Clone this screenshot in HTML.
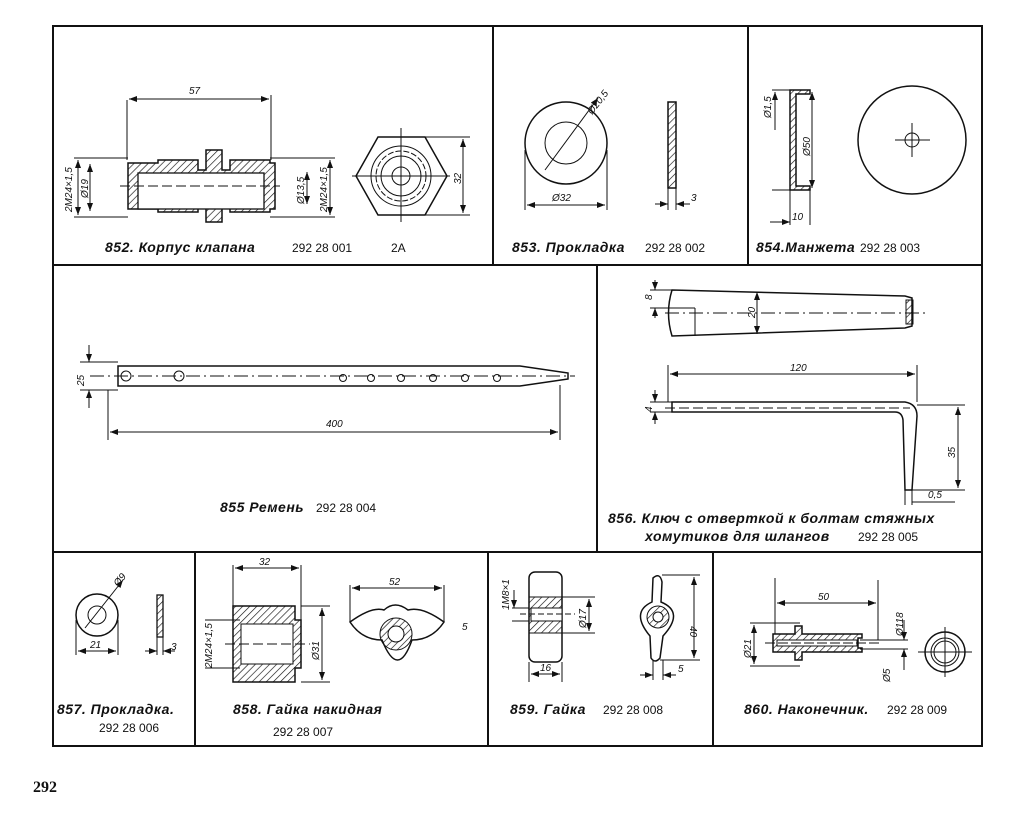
<!DOCTYPE html>
<html><head><meta charset="utf-8"><style>
html,body{margin:0;padding:0;background:#fff}
svg{display:block}
text{font-family:"Liberation Sans","DejaVu Sans",sans-serif;fill:#111}
.t{font-size:14px;font-style:italic;font-weight:bold;letter-spacing:0.5px}
.n{font-size:12px}
.d{font-size:10px;font-style:italic}
</style></head><body>
<svg width="1024" height="814" viewBox="0 0 1024 814" xmlns="http://www.w3.org/2000/svg">
<defs>
<pattern id="h" width="5" height="5" patternUnits="userSpaceOnUse" patternTransform="rotate(45)"><line x1="0" y1="0" x2="0" y2="5" stroke="#111" stroke-width="1.3"/></pattern>
<marker id="a" markerWidth="8" markerHeight="6" refX="8" refY="3" orient="auto-start-reverse"><path d="M0,0L8,3L0,6z" fill="#111"/></marker>
</defs>
<g fill="none" stroke="#111" stroke-width="2">
<rect x="53" y="26" width="929" height="720"/>
<line x1="53" y1="265" x2="982" y2="265"/>
<line x1="53" y1="552" x2="982" y2="552"/>
<line x1="493" y1="26" x2="493" y2="265"/>
<line x1="748" y1="26" x2="748" y2="265"/>
<line x1="597" y1="265" x2="597" y2="552"/>
<line x1="195" y1="552" x2="195" y2="746"/>
<line x1="488" y1="552" x2="488" y2="746"/>
<line x1="713" y1="552" x2="713" y2="746"/>
</g>
<g stroke="#111" fill="none" stroke-width="1">
<!-- 852 -->
<path d="M128,163 h30 v-3 h40 v10 h8 v-20 h16 v20 h8 v-10 h40 v3 h5 v46 h-5 v3 h-40 v-10 h-8 v20 h-16 v-20 h-8 v10 h-40 v-3 h-30 z" fill="url(#h)" stroke-width="1.5"/>
<rect x="138" y="173" width="126" height="36" fill="#fff" stroke-width="1.3"/>
<line x1="120" y1="186" x2="280" y2="186" stroke-dasharray="10,4"/>
<line x1="127" y1="100" x2="127" y2="160"/><line x1="271" y1="95" x2="271" y2="160"/>
<line x1="129" y1="99" x2="269" y2="99" marker-start="url(#a)" marker-end="url(#a)"/>
<line x1="74" y1="158" x2="128" y2="158"/><line x1="74" y1="217" x2="128" y2="217"/>
<line x1="78" y1="160" x2="78" y2="215" marker-start="url(#a)" marker-end="url(#a)"/>
<line x1="90" y1="164" x2="90" y2="211" marker-start="url(#a)" marker-end="url(#a)"/>
<line x1="270" y1="158" x2="335" y2="158"/><line x1="270" y1="217" x2="335" y2="217"/>
<line x1="307" y1="172" x2="307" y2="204" marker-start="url(#a)" marker-end="url(#a)"/>
<line x1="330" y1="160" x2="330" y2="215" marker-start="url(#a)" marker-end="url(#a)"/>
<polygon points="378,137 425,137 447,176 425,215 378,215 356,176" stroke-width="1.5"/>
<circle cx="401" cy="176" r="30"/><circle cx="401" cy="176" r="25" stroke-dasharray="6,2"/><circle cx="401" cy="176" r="20"/><circle cx="401" cy="176" r="9"/>
<line x1="352" y1="176" x2="450" y2="176"/><line x1="401" y1="128" x2="401" y2="222"/>
<line x1="425" y1="137" x2="470" y2="137"/><line x1="425" y1="215" x2="470" y2="215"/>
<line x1="463" y1="139" x2="463" y2="213" marker-start="url(#a)" marker-end="url(#a)"/>
<!-- 853 -->
<circle cx="566" cy="143" r="41" stroke-width="1.5"/><circle cx="566" cy="143" r="21"/>
<line x1="545" y1="170" x2="598" y2="98" marker-end="url(#a)"/>
<line x1="525" y1="150" x2="525" y2="210"/><line x1="607" y1="150" x2="607" y2="210"/>
<line x1="527" y1="205" x2="605" y2="205" marker-start="url(#a)" marker-end="url(#a)"/>
<rect x="668" y="102" width="8" height="86" fill="url(#h)" stroke-width="1.5"/>
<line x1="668" y1="188" x2="668" y2="210"/><line x1="676" y1="188" x2="676" y2="210"/>
<line x1="655" y1="204" x2="668" y2="204" marker-end="url(#a)"/><line x1="690" y1="204" x2="676" y2="204" marker-end="url(#a)"/>
<!-- 854 -->
<path d="M790,90 h20 v4 h-14 v92 h14 v4 h-20 z" fill="url(#h)" stroke-width="1.5"/>
<line x1="772" y1="90" x2="790" y2="90"/><line x1="772" y1="190" x2="790" y2="190"/>
<line x1="775" y1="92" x2="775" y2="130" marker-start="url(#a)"/>
<line x1="812" y1="92" x2="812" y2="188" marker-start="url(#a)" marker-end="url(#a)"/>
<line x1="790" y1="190" x2="790" y2="225"/><line x1="810" y1="190" x2="810" y2="225"/>
<line x1="770" y1="222" x2="790" y2="222" marker-end="url(#a)"/>
<circle cx="912" cy="140" r="54" stroke-width="1.5"/><circle cx="912" cy="140" r="7"/>
<line x1="895" y1="140" x2="930" y2="140"/><line x1="912" y1="123" x2="912" y2="157"/>
<!-- 855 -->
<path d="M118,366 L520,366 L568,373 L568,379 L520,386 L118,386 Z" stroke-width="1.5"/>
<line x1="90" y1="376" x2="575" y2="376" stroke-dasharray="14,4,2,4"/>
<circle cx="126" cy="376" r="5"/><circle cx="179" cy="376" r="5"/>
<circle cx="343" cy="378" r="3.5"/><circle cx="371" cy="378" r="3.5"/><circle cx="401" cy="378" r="3.5"/><circle cx="433" cy="378" r="3.5"/><circle cx="465" cy="378" r="3.5"/><circle cx="497" cy="378" r="3.5"/>
<line x1="80" y1="362" x2="118" y2="362"/><line x1="80" y1="390" x2="118" y2="390"/>
<line x1="89" y1="345" x2="89" y2="362" marker-end="url(#a)"/><line x1="89" y1="408" x2="89" y2="390" marker-end="url(#a)"/>
<line x1="108" y1="390" x2="108" y2="440"/><line x1="560" y1="385" x2="560" y2="440"/>
<line x1="110" y1="432" x2="558" y2="432" marker-start="url(#a)" marker-end="url(#a)"/>
<!-- 856 -->
<path d="M672,290 L905,296 L912,298 L912,326 L905,328 L672,336 Q665,313 672,290 Z" stroke-width="1.5"/>
<line x1="672" y1="308" x2="695" y2="308"/><line x1="695" y1="308" x2="695" y2="336"/>
<line x1="665" y1="313" x2="925" y2="313" stroke-dasharray="14,4,2,4"/>
<line x1="650" y1="290" x2="672" y2="290"/><line x1="650" y1="308" x2="672" y2="308"/>
<line x1="655" y1="280" x2="655" y2="290" marker-end="url(#a)"/><line x1="655" y1="318" x2="655" y2="308" marker-end="url(#a)"/>
<line x1="757" y1="292" x2="757" y2="334" marker-start="url(#a)" marker-end="url(#a)"/>
<rect x="906" y="300" width="7" height="24" fill="url(#h)"/>
<path d="M672,402 L905,402 Q917,404 917,416 L912,490 L905,490 L903,420 Q902,412 895,412 L672,412 Z" stroke-width="1.5"/>
<line x1="665" y1="408" x2="910" y2="408" stroke-dasharray="10,4"/>
<line x1="668" y1="365" x2="668" y2="402"/><line x1="917" y1="365" x2="917" y2="402"/>
<line x1="670" y1="374" x2="915" y2="374" marker-start="url(#a)" marker-end="url(#a)"/>
<line x1="650" y1="402" x2="672" y2="402"/><line x1="650" y1="412" x2="672" y2="412"/>
<line x1="655" y1="390" x2="655" y2="402" marker-end="url(#a)"/><line x1="655" y1="424" x2="655" y2="412" marker-end="url(#a)"/>
<line x1="917" y1="405" x2="965" y2="405"/><line x1="912" y1="490" x2="965" y2="490"/>
<line x1="958" y1="407" x2="958" y2="488" marker-start="url(#a)" marker-end="url(#a)"/>
<line x1="905" y1="490" x2="905" y2="505"/><line x1="912" y1="490" x2="912" y2="505"/>
<line x1="912" y1="502" x2="955" y2="502"/>
<!-- 857 -->
<circle cx="97" cy="615" r="21" stroke-width="1.5"/><circle cx="97" cy="615" r="9"/>
<line x1="85" y1="628" x2="123" y2="580" marker-end="url(#a)"/>
<line x1="76" y1="620" x2="76" y2="655"/><line x1="118" y1="620" x2="118" y2="655"/>
<line x1="78" y1="651" x2="116" y2="651" marker-start="url(#a)" marker-end="url(#a)"/>
<rect x="157" y="595" width="6" height="42" fill="url(#h)" stroke-width="1.3"/>
<line x1="157" y1="637" x2="157" y2="655"/><line x1="163" y1="637" x2="163" y2="655"/>
<line x1="145" y1="651" x2="157" y2="651" marker-end="url(#a)"/><line x1="175" y1="651" x2="163" y2="651" marker-end="url(#a)"/>
<!-- 858 -->
<path d="M233,606 h62 v14 h6 v48 h-6 v14 h-62 z" fill="url(#h)" stroke-width="1.5"/>
<rect x="241" y="624" width="52" height="40" fill="#fff"/>
<line x1="225" y1="644" x2="310" y2="644" stroke-dasharray="10,4"/>
<line x1="233" y1="565" x2="233" y2="606"/><line x1="301" y1="565" x2="301" y2="620"/>
<line x1="235" y1="568" x2="299" y2="568" marker-start="url(#a)" marker-end="url(#a)"/>
<line x1="205" y1="620" x2="240" y2="620"/><line x1="205" y1="668" x2="240" y2="668"/>
<line x1="301" y1="606" x2="330" y2="606"/><line x1="301" y1="682" x2="330" y2="682"/>
<line x1="322" y1="608" x2="322" y2="680" marker-start="url(#a)" marker-end="url(#a)"/>
<path d="M350,622 Q372,606 384,610 Q395,600 408,610 Q422,606 444,622 Q432,640 412,640 Q398,680 382,640 Q362,640 350,622 Z" stroke-width="1.5"/>
<circle cx="396" cy="634" r="16" fill="url(#h)"/><circle cx="396" cy="634" r="8" fill="#fff"/>
<line x1="350" y1="585" x2="350" y2="622"/><line x1="444" y1="585" x2="444" y2="622"/>
<line x1="352" y1="588" x2="442" y2="588" marker-start="url(#a)" marker-end="url(#a)"/>
<!-- 859 -->
<rect x="529" y="572" width="33" height="90" rx="6" stroke-width="1.5"/>
<rect x="529" y="597" width="33" height="36" fill="url(#h)"/>
<rect x="531" y="608" width="31" height="13" fill="#fff"/>
<line x1="520" y1="614" x2="575" y2="614" stroke-dasharray="6,3"/>
<line x1="562" y1="597" x2="595" y2="597"/><line x1="562" y1="633" x2="595" y2="633"/>
<line x1="589" y1="599" x2="589" y2="631" marker-start="url(#a)" marker-end="url(#a)"/>
<line x1="512" y1="608" x2="529" y2="608"/><line x1="512" y1="621" x2="529" y2="621"/>
<line x1="514" y1="590" x2="514" y2="608" marker-end="url(#a)"/>
<line x1="529" y1="662" x2="529" y2="682"/><line x1="562" y1="662" x2="562" y2="682"/>
<line x1="531" y1="674" x2="560" y2="674" marker-start="url(#a)" marker-end="url(#a)"/>
<path d="M653,578 Q660,572 662,582 L661,602 Q685,612 663,636 L660,658 Q655,664 651,658 L650,636 Q630,612 652,602 Z" stroke-width="1.5"/>
<circle cx="658" cy="617" r="11" fill="url(#h)"/><circle cx="658" cy="617" r="5" fill="#fff"/>
<line x1="662" y1="575" x2="700" y2="575"/><line x1="660" y1="660" x2="700" y2="660"/>
<line x1="694" y1="577" x2="694" y2="658" marker-start="url(#a)" marker-end="url(#a)"/>
<line x1="653" y1="660" x2="653" y2="680"/><line x1="663" y1="660" x2="663" y2="680"/>
<line x1="640" y1="675" x2="653" y2="675" marker-end="url(#a)"/><line x1="676" y1="675" x2="663" y2="675" marker-end="url(#a)"/>
<!-- 860 -->
<path d="M773,634 h22 v-8 h7 v8 h60 v4 h-4 v10 h4 v4 h-60 v8 h-7 v-8 h-22 z" fill="url(#h)" stroke-width="1.5"/>
<rect x="777" y="640" width="80" height="6" fill="#fff"/>
<line x1="765" y1="643" x2="880" y2="643" stroke-dasharray="10,3"/>
<line x1="775" y1="578" x2="775" y2="634"/><line x1="878" y1="580" x2="878" y2="640"/>
<line x1="777" y1="603" x2="876" y2="603" marker-start="url(#a)" marker-end="url(#a)"/>
<line x1="750" y1="623" x2="800" y2="623"/><line x1="750" y1="666" x2="800" y2="666"/>
<line x1="754" y1="625" x2="754" y2="664" marker-start="url(#a)" marker-end="url(#a)"/>
<line x1="860" y1="640" x2="908" y2="640"/><line x1="860" y1="649" x2="908" y2="649"/>
<line x1="904" y1="620" x2="904" y2="640" marker-end="url(#a)"/><line x1="904" y1="670" x2="904" y2="649" marker-end="url(#a)"/>
<circle cx="945" cy="652" r="20" stroke-width="1.5"/><circle cx="945" cy="652" r="14"/><circle cx="945" cy="652" r="11"/>
<line x1="918" y1="652" x2="972" y2="652"/><line x1="945" y1="627" x2="945" y2="677"/>
</g>
<!-- dimension labels -->
<text class="d" x="189" y="94">57</text>
<text class="d" transform="translate(72,212) rotate(-90)">2M24×1,5</text>
<text class="d" transform="translate(88,198) rotate(-90)">Ø19</text>
<text class="d" transform="translate(304,204) rotate(-90)">Ø13,5</text>
<text class="d" transform="translate(327,212) rotate(-90)">2M24×1,5</text>
<text class="d" transform="translate(461,184) rotate(-90)">32</text>
<text class="d" transform="translate(592,115) rotate(-52)">Ø20,5</text>
<text class="d" x="552" y="201">Ø32</text>
<text class="d" x="691" y="201">3</text>
<text class="d" transform="translate(771,118) rotate(-90)">Ø1,5</text>
<text class="d" transform="translate(810,156) rotate(-90)">Ø50</text>
<text class="d" x="792" y="220">10</text>
<text class="d" transform="translate(84,386) rotate(-90)">25</text>
<text class="d" x="326" y="427">400</text>
<text class="d" transform="translate(652,300) rotate(-90)">8</text>
<text class="d" transform="translate(755,318) rotate(-90)">20</text>
<text class="d" x="790" y="371">120</text>
<text class="d" transform="translate(652,412) rotate(-90)">4</text>
<text class="d" transform="translate(955,458) rotate(-90)">35</text>
<text class="d" x="928" y="498">0,5</text>
<text class="d" transform="translate(118,587) rotate(-50)">Ø9</text>
<text class="d" x="90" y="648">21</text>
<text class="d" x="171" y="650">3</text>
<text class="d" x="259" y="565">32</text>
<text class="d" transform="translate(212,668) rotate(-90)">2M24×1,5</text>
<text class="d" transform="translate(319,660) rotate(-90)">Ø31</text>
<text class="d" x="389" y="585">52</text>
<text class="d" x="462" y="630">5</text>
<text class="d" transform="translate(509,610) rotate(-90)">1M8×1</text>
<text class="d" transform="translate(586,628) rotate(-90)">Ø17</text>
<text class="d" x="540" y="671">16</text>
<text class="d" transform="translate(690,626) rotate(90)">40</text>
<text class="d" x="678" y="672">5</text>
<text class="d" x="818" y="600">50</text>
<text class="d" transform="translate(751,658) rotate(-90)">Ø21</text>
<text class="d" transform="translate(903,636) rotate(-90)">Ø118</text>
<text class="d" transform="translate(890,682) rotate(-90)">Ø5</text>
<!-- titles -->
<text class="t" x="105" y="252">852. Корпус  клапана</text><text class="n" x="292" y="252">292 28 001</text><text class="n" x="391" y="252">2А</text>
<text class="t" x="512" y="252">853. Прокладка</text><text class="n" x="645" y="252">292 28 002</text>
<text class="t" x="756" y="252">854.Манжета</text><text class="n" x="860" y="252">292 28 003</text>
<text class="t" x="220" y="512">855  Ремень</text><text class="n" x="316" y="512">292 28 004</text>
<text class="t" x="608" y="523">856. Ключ с отверткой к болтам стяжных</text>
<text class="t" x="645" y="541">хомутиков для шлангов</text><text class="n" x="858" y="541">292 28 005</text>
<text class="t" x="57" y="714">857. Прокладка.</text><text class="n" x="99" y="732">292 28 006</text>
<text class="t" x="233" y="714">858. Гайка  накидная</text><text class="n" x="273" y="736">292 28 007</text>
<text class="t" x="510" y="714">859. Гайка</text><text class="n" x="603" y="714">292 28 008</text>
<text class="t" x="744" y="714">860. Наконечник.</text><text class="n" x="887" y="714">292 28 009</text>
<text x="33" y="792" style="font-family:'Liberation Serif',serif;font-weight:bold;font-size:16px">292</text>
</svg>
</body></html>
